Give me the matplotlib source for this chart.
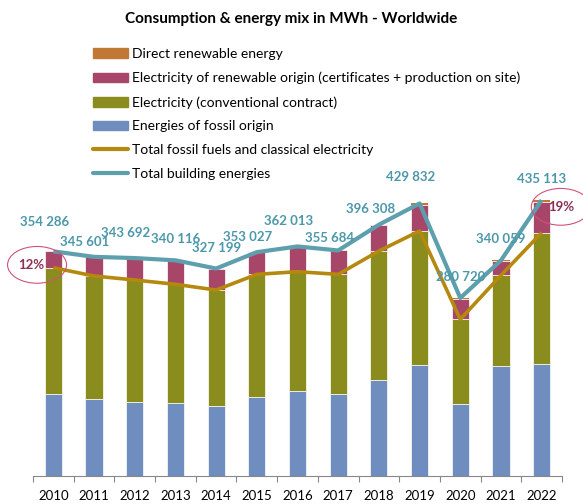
import numpy as np
import matplotlib.pyplot as plt
from matplotlib.patches import Patch, Ellipse
from matplotlib.lines import Line2D

plt.rcParams['font.family'] = ['Lato', 'DejaVu Sans']

# MWh per year
years = ["2010", "2011", "2012", "2013", "2014", "2015", "2016",
         "2017", "2018", "2019", "2020", "2021", "2022"]
fossil = [128800, 121400, 116200, 115100, 110900, 124100, 134000,
          128800, 151400, 175000, 113000, 173500, 176100]
conventional = [199700, 194000, 192900, 187200, 182400, 193900, 188200,
                189200, 203400, 211400, 134100, 143000, 207600]
renewable = [25786, 30201, 34592, 37816, 33899, 35027, 39813,
             37684, 41008, 41032, 32120, 22059, 48913]
direct = [0, 0, 0, 0, 0, 0, 0, 0, 500, 2400, 1500, 1500, 2500]
total = [354286, 345601, 343692, 340116, 327199, 353027, 362013,
         355684, 396308, 429832, 280720, 340059, 435113]
total_labels = ["354 286", "345 601", "343 692", "340 116", "327 199",
                "353 027", "362 013", "355 684", "396 308", "429 832",
                "280 720", "340 059", "435 113"]
share_labels = ["12%", "19%"]

c_direct = "#C07834"
c_renew = "#A8466A"
c_conv = "#8A8C1E"
c_fossil = "#6F8DBE"
c_gold = "#B5880E"
c_teal = "#5E9FAE"

fig = plt.figure(figsize=(5.83, 5.04), dpi=100)
ax = fig.add_axes([0.0566, 0.0556, 0.9074, 0.865])

x = np.arange(len(years))
fossil = np.array(fossil)
conventional = np.array(conventional)
renewable = np.array(renewable)
direct = np.array(direct)

w = 0.42
kw = dict(width=w, edgecolor="white", linewidth=0.5, zorder=2)
ax.bar(x, fossil, color=c_fossil, **kw)
ax.bar(x, conventional, bottom=fossil, color=c_conv, **kw)
ax.bar(x, renewable, bottom=fossil + conventional, color=c_renew, **kw)
ax.bar(x, direct, bottom=fossil + conventional + renewable, color=c_direct,
       width=w, linewidth=0, zorder=2)

ax.plot(x, fossil + conventional, color=c_gold, lw=2.6, zorder=3,
        solid_capstyle="butt")
ax.plot(x, total, color=c_teal, lw=3.0, zorder=4, solid_capstyle="butt")

# label offsets in pixels (dx, dy)
offsets = [(-9, 29), (-9, 15), (-9, 25), (0, 21), (0, 21), (-9, 15), (-9, 25),
           (-9, 12), (-8, 16), (-9, 26), (0, 21), (0, 21), (0, 21)]
for xi, t, lab, (dx, dy) in zip(x, total, total_labels, offsets):
    ax.annotate(lab, (xi, t), xytext=(dx, dy), textcoords="offset pixels",
                ha="center", va="center", fontsize=9.5, fontweight="bold",
                color="#4C98AA", zorder=5)

# renewable share callouts
for xi, yi, txt, tdx in [(-0.4, 333000, share_labels[0], -6),
                         (12.47, 424500, share_labels[1], 0)]:
    ax.add_patch(Ellipse((xi, yi), 1.45, 58000, fill=False,
                         edgecolor="#D0527A", lw=0.8, clip_on=False, zorder=6))
    ax.annotate(txt, (xi, yi), xytext=(tdx, 0), textcoords="offset pixels",
                ha="center", va="center", fontsize=9.5, fontweight="bold",
                color="#8E2F54", zorder=6, annotation_clip=False)

ax.set_xlim(-0.5, 12.5)
ax.set_ylim(0, 687600)
ax.set_xticks(x)
ax.set_xticklabels(years, fontsize=9.5)
ax.set_xticks(np.arange(-0.5, 13, 1), minor=True)
ax.tick_params(axis="x", which="major", length=0, pad=10)
ax.tick_params(axis="x", which="minor", length=4, color="#888888", width=0.8)
ax.set_yticks([])
for s in ["top", "right", "left"]:
    ax.spines[s].set_visible(False)
ax.spines["bottom"].set_color("#888888")

fig.text(0.5, 0.963, "Consumption & energy mix in MWh - Worldwide",
         ha="center", va="center", fontsize=11, fontweight="bold")

handles = [
    Patch(color=c_direct, label="Direct renewable energy"),
    Patch(color=c_renew, label="Electricity of renewable origin (certificates + production on site)"),
    Patch(color=c_conv, label="Electricity (conventional contract)"),
    Patch(color=c_fossil, label="Energies of fossil origin"),
    Line2D([], [], color=c_gold, lw=3, solid_capstyle="round",
           label="Total fossil fuels and classical electricity"),
    Line2D([], [], color=c_teal, lw=3, solid_capstyle="round",
           label="Total building energies"),
]
fig.legend(handles=handles, loc="upper left",
           bbox_to_anchor=(86 / 583, 1 - 41 / 504), frameon=False,
           fontsize=10, handlelength=2.5, handleheight=0.7,
           handletextpad=0.3, labelspacing=0.85, borderpad=0)

fig.savefig("out.png", dpi=100)
